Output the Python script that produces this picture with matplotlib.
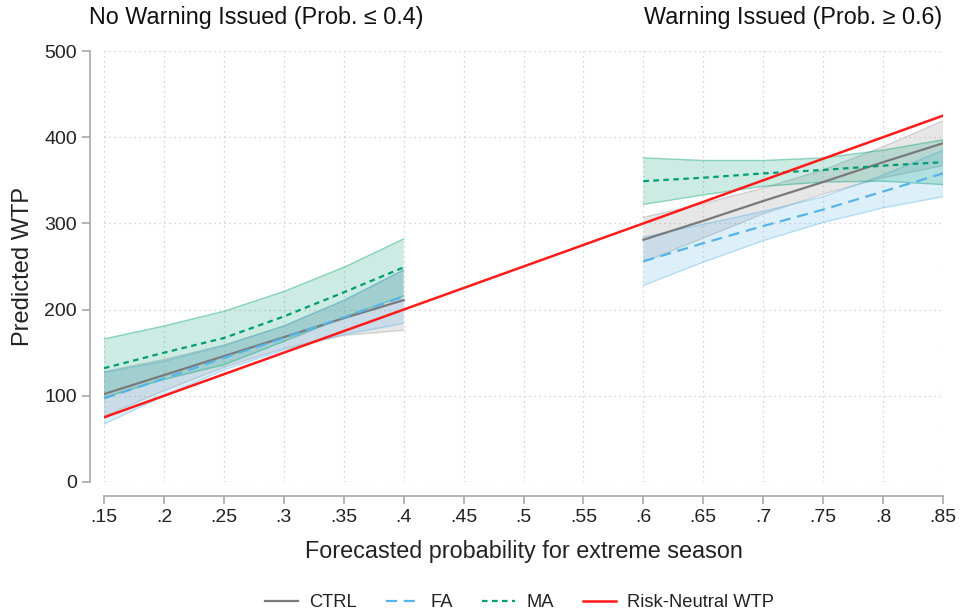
import numpy as np
import matplotlib.pyplot as plt
from matplotlib.lines import Line2D

plt.rcParams['font.family'] = ['Liberation Sans', 'DejaVu Sans']

# forecast probabilities evaluated in each regime
x_low = [0.15, 0.20, 0.25, 0.30, 0.35, 0.40]
x_high = [0.60, 0.65, 0.70, 0.75, 0.80, 0.85]

# predicted WTP and 95% CI half widths, no-warning regime
ctrl_low = [102, 124, 146, 168, 190, 211]
ctrl_low_hw = [26, 18, 13, 13, 20, 35]
fa_low = [97, 120, 144, 167, 191, 215]
fa_low_hw = [30, 20, 14, 14, 20, 31]
ma_low = [132, 150, 167, 192, 220, 249]
ma_low_hw = [34, 31, 31, 29, 29, 33]

# warning regime
ctrl_high = [281, 303, 326, 348, 371, 393]
ctrl_high_hw = [26, 20, 15, 14, 18, 26]
fa_high = [256, 277, 297, 316, 337, 358]
fa_high_hw = [28, 22, 17, 15, 19, 27]
ma_high = [349, 353, 358, 362, 367, 371]
ma_high_hw = [27, 20, 15, 14, 18, 26]

# risk neutral benchmark
rn_x = [0.15, 0.85]
rn_y = [75, 425]

xticks = [0.15, 0.2, 0.25, 0.3, 0.35, 0.4, 0.45, 0.5, 0.55, 0.6, 0.65, 0.7, 0.75, 0.8, 0.85]
xticklabels = ['.15', '.2', '.25', '.3', '.35', '.4', '.45', '.5', '.55', '.6', '.65', '.7', '.75', '.8', '.85']
yticks = [0, 100, 200, 300, 400, 500]

c_ctrl = '#7a7a7a'
c_fa = '#56b4e9'
c_ma = '#009e73'
c_rn = '#ff1a1a'

fig = plt.figure(figsize=(9.62, 6.15), dpi=100)
ax = fig.add_axes([104/962, 1-482/615, 839/962, 431/615])

def band(xs, ys, hw, col, a):
    ys = np.array(ys, float); hw = np.array(hw, float)
    ax.fill_between(xs, ys-hw, ys+hw, facecolor=col, alpha=a, edgecolor='none', zorder=2)
    ax.plot(xs, ys+hw, color=col, alpha=0.4, lw=1, zorder=2)
    ax.plot(xs, ys-hw, color=col, alpha=0.4, lw=1, zorder=2)

for xs, data in [(x_low, (ctrl_low, ctrl_low_hw, fa_low, fa_low_hw, ma_low, ma_low_hw)),
                 (x_high, (ctrl_high, ctrl_high_hw, fa_high, fa_high_hw, ma_high, ma_high_hw))]:
    c, chw, f, fhw, m, mhw = data
    band(xs, c, chw, '#a0a0a0', 0.25)
    band(xs, f, fhw, c_fa, 0.2)
    band(xs, m, mhw, c_ma, 0.2)
    ax.plot(xs, c, color=c_ctrl, lw=1.6, zorder=4)
    ax.plot(xs, f, color=c_fa, lw=1.6, ls=(0, (5, 3)), zorder=4)
    ax.plot(xs, m, color=c_ma, lw=1.6, ls=(0, (2.5, 2)), zorder=4)

ax.plot(rn_x, rn_y, color=c_rn, lw=1.8, zorder=5)

ax.set_xlim(0.15, 0.85)
ax.set_ylim(0, 500)
ax.set_xticks(xticks)
ax.set_xticklabels(xticklabels)
ax.set_yticks(yticks)
ax.grid(True, color='#c8c8c8', ls=(0, (1, 3)), lw=0.9)
ax.set_axisbelow(True)

for s in ['top', 'right']:
    ax.spines[s].set_visible(False)
ax.spines['left'].set_position(('outward', 10))
ax.spines['bottom'].set_position(('outward', 10))
ax.spines['left'].set_bounds(0, 500)
ax.spines['bottom'].set_bounds(0.15, 0.85)
for s in ['left', 'bottom']:
    ax.spines[s].set_color('#a8a8a8')
    ax.spines[s].set_linewidth(1.2)
ax.tick_params(colors='#a8a8a8', labelcolor='#222222', labelsize=14, length=6, width=1.2)

ax.set_ylabel('Predicted WTP', fontsize=17, color='#222222', labelpad=7)
ax.set_xlabel('Forecasted probability for extreme season', fontsize=16.8, color='#222222', labelpad=10)

ax.text(0.277, 1.077, 'No Warning Issued (Prob. \u2264 0.4)', transform=ax.get_xaxis_transform(),
        ha='center', va='center', fontsize=16.8, color='#111111')
ax.text(0.725, 1.077, 'Warning Issued (Prob. \u2265 0.6)', transform=ax.get_xaxis_transform(),
        ha='center', va='center', fontsize=16.8, color='#111111')

handles = [Line2D([], [], color=c_ctrl, lw=1.6),
           Line2D([], [], color=c_fa, lw=1.6, ls=(0, (5, 3))),
           Line2D([], [], color=c_ma, lw=1.6, ls=(0, (2.5, 2))),
           Line2D([], [], color=c_rn, lw=1.8)]
fig.legend(handles, ['CTRL', 'FA', 'MA', 'Risk-Neutral WTP'], loc='center', bbox_to_anchor=(0.54, 0.02),
           ncol=4, frameon=False, fontsize=13.2, handlelength=1.8, handletextpad=0.6,
           columnspacing=1.6, labelcolor='#222222')

fig.savefig('out.png', dpi=100)
